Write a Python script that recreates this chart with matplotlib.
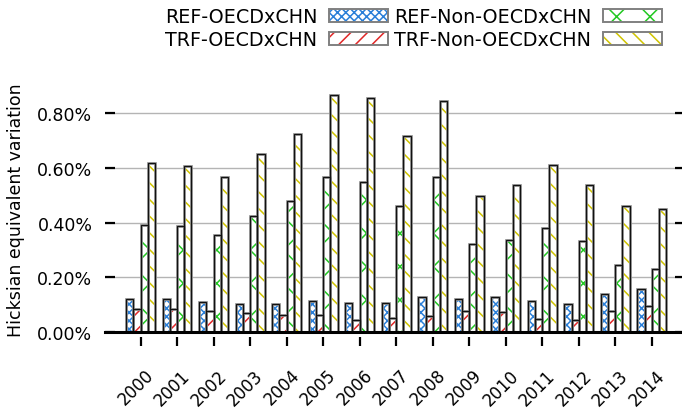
import numpy as np
import matplotlib
matplotlib.use("Agg")
import matplotlib.pyplot as plt
from matplotlib.path import Path
from matplotlib.ticker import FuncFormatter
from matplotlib.transforms import ScaledTranslation

# ------------------------------------------------------------
# Data (Hicksian equivalent variation, %)
# ------------------------------------------------------------
years = ["2000", "2001", "2002", "2003", "2004", "2005", "2006", "2007",
         "2008", "2009", "2010", "2011", "2012", "2013", "2014"]

ref_oecd = [0.121, 0.121, 0.109, 0.102, 0.101, 0.115, 0.105, 0.105,
            0.127, 0.120, 0.127, 0.115, 0.101, 0.139, 0.157]
trf_oecd = [0.084, 0.084, 0.076, 0.068, 0.061, 0.061, 0.044, 0.050,
            0.057, 0.076, 0.072, 0.048, 0.043, 0.078, 0.094]
ref_nonoecd = [0.391, 0.388, 0.355, 0.424, 0.478, 0.566, 0.548, 0.461,
               0.566, 0.322, 0.335, 0.380, 0.332, 0.244, 0.229]
trf_nonoecd = [0.617, 0.608, 0.566, 0.650, 0.725, 0.867, 0.855, 0.716,
               0.846, 0.498, 0.537, 0.612, 0.539, 0.460, 0.451]

series = [
    ("REF-OECDxCHN", ref_oecd, "#2a7fd8", "xxxx"),
    ("TRF-OECDxCHN", trf_oecd, "#e02828", "//"),
    ("REF-Non-OECDxCHN", ref_nonoecd, "#22c822", "x"),
    ("TRF-Non-OECDxCHN", trf_nonoecd, "#d0c400", "\\\\"),
]

# ------------------------------------------------------------
# Plot
# ------------------------------------------------------------
plt.rcParams["hatch.linewidth"] = 1.1
plt.rcParams["font.family"] = "DejaVu Sans"

fig = plt.figure(figsize=(6.82, 4.10), dpi=100)
ax = fig.add_axes([105 / 682, 1 - 333 / 410, 580 / 682, 246 / 410])

x = np.arange(len(years))
width = 0.197
handles = []
for i, (name, vals, color, hatch) in enumerate(series):
    pos = x + (i - 1.5) * width
    # hatch layer (hatch colour follows edgecolor)
    ax.bar(pos, vals, width, color="white", edgecolor=color, hatch=hatch,
           linewidth=0, zorder=2)
    # outline: grey halo + dark core
    ax.bar(pos, vals, width, fill=False, edgecolor="#9a9a9a",
           linewidth=2.0, zorder=3)
    ax.bar(pos, vals, width, fill=False, edgecolor="#111111",
           linewidth=0.9, zorder=4)
    h_fill = plt.Rectangle((0, 0), 1, 1, facecolor="white", edgecolor=color,
                           hatch=hatch, linewidth=0)
    h_edge = plt.Rectangle((0, 0), 1, 1, fill=False, edgecolor="#808080",
                           linewidth=1.4)
    handles.append(((h_fill, h_edge), name))

ax.set_xlim(-0.975, 14.91)
ax.set_ylim(0, 0.9)
ax.set_yticks([0, 0.2, 0.4, 0.6, 0.8])
ax.yaxis.set_major_formatter(FuncFormatter(lambda v, p: f"{v:.2f}%"))
ax.yaxis.grid(True, color="#b4b4b4", linewidth=1.0, zorder=0)
ax.set_axisbelow(True)

for s in ["top", "right", "left"]:
    ax.spines[s].set_visible(False)
ax.spines["bottom"].set_linewidth(2.2)
ax.spines["bottom"].set_zorder(5)

ax.tick_params(axis="y", which="both", direction="in", length=7.5, width=1.6,
               left=True, right=True, labelsize=12.5, pad=9)
ax.tick_params(axis="x", direction="out", length=7, width=1.6,
               labelsize=12, pad=14)
ax.set_xticks(x)
ax.set_xticklabels(years, rotation=45, ha="right", va="center",
                   rotation_mode="anchor")

# x ticks drawn below the axis line with a small gap (gnuplot look)
gap_tick = Path([(0, -0.36), (0, -1.0)])
for t in ax.xaxis.get_major_ticks():
    t.tick1line.set_marker(gap_tick)
    t.tick1line.set_markersize(20)
    t.tick1line.set_markeredgewidth(1.6)
shift = ScaledTranslation(10 / 100, -11 / 100, fig.dpi_scale_trans)
for lab in ax.get_xticklabels():
    lab.set_transform(lab.get_transform() + shift)

ax.set_ylabel("Hicksian equivalent variation", fontsize=12.5, labelpad=9)

# Legend: text then swatch, two columns
fig.legend([h for h, _ in handles], [n for _, n in handles],
           loc="upper right", bbox_to_anchor=(662 / 682, 1 - 8 / 410),
           ncol=2, markerfirst=False, frameon=False, fontsize=13.8,
           handlelength=3.07, handleheight=0.68, handletextpad=0.62,
           columnspacing=0.3, labelspacing=0.2, borderpad=0.0,
           borderaxespad=0.0)

fig.savefig("out.png", dpi=100)
